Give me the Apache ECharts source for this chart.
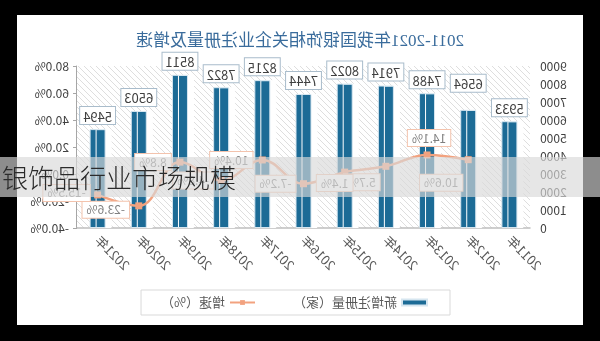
<!DOCTYPE html>
<html>
<head>
<meta charset="utf-8">
<script src="https://cdn.jsdelivr.net/npm/echarts@6/dist/echarts.min.js"></script>
<style>
  html, body { margin: 0; padding: 0; background: #000; width: 600px; height: 341px; overflow: hidden; }
  #card { position: absolute; left: 17px; top: 15px; width: 566px; height: 310px; background: #fff; }
  #chart { position: absolute; left: 0; top: 0; width: 600px; height: 341px; transform: scaleX(-1); }
  #banner {
    position: absolute; left: 0; top: 157px; width: 600px; height: 40px;
    background: rgba(216, 216, 216, 0.65);
    font-family: "Noto Sans CJK SC", sans-serif; font-size: 26px; font-weight: 300;
    color: #2b2b2b; line-height: 40px; padding-left: 2px; box-sizing: border-box; letter-spacing: 0px;
  }
</style>
</head>
<body>
<div id="card"></div>
<div id="chart"></div>
<div id="banner">银饰品行业市场规模</div>
<script>
// Years on the category axis
const categories = ['2011年', '2012年', '2013年', '2014年', '2015年', '2016年', '2017年', '2018年', '2019年', '2020年', '2021年'];
// New registrations per year (家)
const registrations = [5933, 6564, 7488, 7914, 8022, 7444, 8215, 7822, 8511, 6503, 5494];
// Year-on-year growth (%), none for the first year
const growth = [null, 10.6, 14.1, 5.7, 1.4, -7.2, 10.4, -4.8, 8.8, -23.6, -15.5];
// Axis tick ranges
const countTicks = { min: 0, max: 9000, interval: 1000 };
const growthTicks = { min: -40, max: 80, interval: 20 };

// Where each growth label sits relative to its point
const growthLabelOffsets = [null, [27, 23], [-2, -17], [24, 16], [10, 11], [28, 0], [31, 0], [28, 0], [27, 0], [33, 4], [31, -2]];
// Individual nudges for the count labels
const countLabelOffsets = { 1: [0, -13] };

const FONT = '"Microsoft YaHei", "Noto Sans CJK SC", sans-serif';

// Diagonal hatch fill for the plot area
function hatchPattern() {
  const c = document.createElement('canvas');
  c.width = 6; c.height = 6;
  const g = c.getContext('2d');
  g.fillStyle = '#ffffff';
  g.fillRect(0, 0, 6, 6);
  g.strokeStyle = '#dedede';
  g.lineWidth = 1;
  g.beginPath();
  g.moveTo(0, 6); g.lineTo(6, 0);
  g.moveTo(-1, 1); g.lineTo(1, -1);
  g.moveTo(5, 7); g.lineTo(7, 5);
  g.stroke();
  return { image: c, repeat: 'repeat' };
}

const chart = echarts.init(document.getElementById('chart'), null, { renderer: 'canvas' });

const barData = registrations.map((v, i) => {
  const item = { value: v };
  if (countLabelOffsets[i]) item.label = { offset: countLabelOffsets[i] };
  return item;
});

const lineData = growth.map((v, i) => {
  if (v === null) return '-';
  return { value: v, label: { offset: growthLabelOffsets[i] } };
});

chart.setOption({
  backgroundColor: 'transparent',
  animation: false,
  title: {
    text: '2011-2021年我国银饰相关企业注册量及增速',
    left: 'center',
    top: 28,
    textStyle: { color: '#3a6c9c', fontSize: 17, fontWeight: 'normal', fontFamily: '"Liberation Serif", "Noto Sans CJK SC", serif' }
  },
  legend: {
    left: 150,
    top: 290,
    padding: [6, 20, 6, 22],
    itemGap: 37,
    itemWidth: 25,
    itemHeight: 6,
    borderColor: '#d9d9d9',
    borderWidth: 1,
    textStyle: { color: '#595959', fontSize: 13, fontFamily: FONT },
    data: [
      { name: '新增注册量（家）', icon: 'rect' },
      { name: '增速（%）' }
    ]
  },
  grid: {
    left: 70, right: 77, top: 66, bottom: 113,
    show: true,
    backgroundColor: hatchPattern(),
    borderWidth: 0
  },
  xAxis: {
    type: 'category',
    data: categories,
    axisLine: { lineStyle: { color: '#bfbfbf', width: 1.5 } },
    axisTick: { show: false },
    axisLabel: { rotate: 45, color: '#595959', fontSize: 13, margin: 10, fontFamily: FONT }
  },
  yAxis: [
    {
      type: 'value',
      position: 'left',
      min: countTicks.min, max: countTicks.max, interval: countTicks.interval,
      axisLine: { show: false },
      axisTick: { show: false },
      splitLine: { show: false },
      axisLabel: { color: '#404040', fontSize: 12, margin: 10, fontFamily: FONT, formatter: v => String(v) }
    },
    {
      type: 'value',
      position: 'right',
      min: growthTicks.min, max: growthTicks.max, interval: growthTicks.interval,
      axisLine: { show: true, lineStyle: { color: '#a6a6a6' } },
      axisTick: { show: true, length: 4, lineStyle: { color: '#a6a6a6' } },
      splitLine: { show: false },
      axisLabel: { color: '#404040', fontSize: 12, margin: 8, fontFamily: FONT, formatter: v => v.toFixed(1) + '%' }
    }
  ],
  series: [
    {
      name: '新增注册量（家）',
      type: 'bar',
      yAxisIndex: 0,
      barWidth: 16,
      data: barData,
      itemStyle: {
        color: '#1c6b96',
        borderColor: '#d6e6f0',
        borderWidth: 1,
        shadowColor: 'rgba(255,255,255,1)',
        shadowBlur: 0,
        shadowOffsetX: -6
      },
      label: {
        show: true,
        position: 'top',
        distance: 5,
        color: '#404040',
        fontSize: 13,
        fontFamily: FONT,
        backgroundColor: '#ffffff',
        borderColor: '#a9bccb',
        borderWidth: 1,
        padding: [3, 3, 1, 3]
      }
    },
    {
      name: '增速（%）',
      type: 'line',
      yAxisIndex: 1,
      smooth: 0.4,
      data: lineData,
      connectNulls: false,
      symbol: 'rect',
      symbolSize: 7,
      lineStyle: { color: '#f2a27f', width: 2.5 },
      itemStyle: { color: '#f2a27f' },
      label: {
        show: true,
        position: 'inside',
        color: '#7f7f7f',
        fontSize: 12,
        fontFamily: FONT,
        backgroundColor: '#ffffff',
        borderColor: '#f3c3ad',
        borderWidth: 1,
        padding: [3, 4, 1, 4],
        formatter: p => Number(p.value).toFixed(1) + '%'
      }
    }
  ]
});
</script>
</body>
</html>
